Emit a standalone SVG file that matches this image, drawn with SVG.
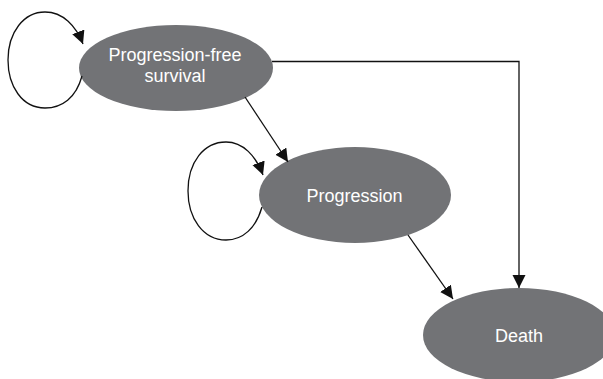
<svg xmlns="http://www.w3.org/2000/svg" width="603" height="379" viewBox="0 0 603 379">
<style>
.node{fill:#727376;}
.lbl{fill:#ffffff;font-family:"Liberation Sans",Arial,sans-serif;font-size:18px;text-anchor:middle;}
.edge{fill:none;stroke:#111;stroke-width:1.3;}
</style>
<defs>
<marker id="arr" markerUnits="userSpaceOnUse" markerWidth="15" markerHeight="14" refX="13" refY="6.5" orient="auto">
<path d="M0,0 L13,6.5 L0,13 Z" fill="#111"/>
</marker>
</defs>
<rect width="603" height="379" fill="#fff"/>
<g id="pfs">
<ellipse class="node" cx="176" cy="68" rx="97" ry="43"/>
<text class="lbl" x="175" y="61">Progression-free</text>
<text class="lbl" x="175" y="82">survival</text>
</g>
<g id="progression">
<ellipse class="node" cx="355" cy="195" rx="96" ry="48"/>
<text class="lbl" x="354.5" y="201.5">Progression</text>
</g>
<g id="death">
<ellipse class="node" cx="519" cy="335" rx="96" ry="47"/>
<text class="lbl" x="519" y="342">Death</text>
</g>
<g id="connectors">
<path class="edge" marker-end="url(#arr)" d="M272,61.5 H519 V288"/>
<path class="edge" marker-end="url(#arr)" d="M245,97 L288,162"/>
<path class="edge" marker-end="url(#arr)" d="M408,235 L453,299"/>
<path class="edge" marker-end="url(#arr)" d="M82,76 C76,98 62,108 45,108 C22,108 8,86 8,60 C8,32 24,12 45,12 C63,12 76,26 83,44"/>
<path class="edge" marker-end="url(#arr)" d="M262,207 C256,228 243,240 226,240 C203,240 188,218 188,191 C188,162 204,142 226,142 C243,142 256,156 263,175"/>
</g>
</svg>
